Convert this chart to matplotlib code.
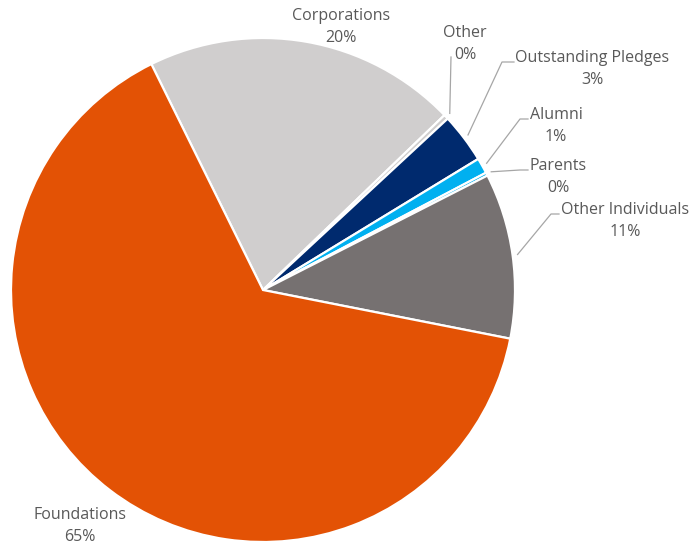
import numpy as np
import matplotlib
matplotlib.use('Agg')
import matplotlib.pyplot as plt

# Dati del grafico (ordine orario a partire da Corporations)
categories = ['Corporations', 'Other', 'Outstanding Pledges', 'Alumni',
              'Parents', 'Other Individuals', 'Foundations']
values = [20.1, 0.3, 3.2, 1.0, 0.2, 10.6, 64.6]
pct_labels = ['20%', '0%', '3%', '1%', '0%', '11%', '65%']
colors = ['#D0CECE', '#D0CECE', '#002A6E', '#00B0F0', '#00B0F0',
          '#767171', '#E35205']

W, H = 692, 545
CX, CY, R = 263, 290, 252


def px(x, y):
    """Pixel dell'immagine -> coordinate dati (raggio 1)."""
    return (x - CX) / R, (CY - y) / R


fig = plt.figure(figsize=(W / 100, H / 100), dpi=100)
ax = fig.add_axes([(CX - R) / W, (H - CY - R) / H, 2 * R / W, 2 * R / H])
ax.axis('off')

wedges, _ = ax.pie(values, colors=colors, startangle=116.3, counterclock=False,
                   radius=1, center=(0, 0), frame=False,
                   wedgeprops=dict(edgecolor='white', linewidth=1.6))
ax.set_xlim(-1, 1)
ax.set_ylim(-1, 1)

TEXT_COLOR = '#595959'
LINE_COLOR = '#A6A6A6'
FONT = 'Open Sans'

# posizione etichette (pixel) e gomito della linea guida
label_pos = {
    'Corporations': (341, 27, None),
    'Other': (465, 44, (451, 57)),
    'Outstanding Pledges': (592, 69, (502, 62)),
    'Alumni': (556, 126, (520, 119)),
    'Parents': (558, 177, (520, 170)),
    'Other Individuals': (625, 221, (551, 214)),
    'Foundations': (80, 526, None),
}
text_left = {
    'Outstanding Pledges': 514,
    'Alumni': 528,
    'Parents': 528,
    'Other Individuals': 559,
}

for w, cat, pct in zip(wedges, categories, pct_labels):
    tx, ty, elbow = label_pos[cat]
    x, y = px(tx, ty)
    ax.text(x, y, f'{cat}\n{pct}', ha='center', va='center', fontsize=11.5,
            color=TEXT_COLOR, family=FONT, linespacing=1.5)
    if elbow is not None:
        mid = np.deg2rad((w.theta1 + w.theta2) / 2)
        sx, sy = 1.02 * np.cos(mid), 1.02 * np.sin(mid)
        ex, ey = px(*elbow)
        xs, ys = [sx, ex], [sy, ey]
        if cat in text_left:
            hx, _ = px(text_left[cat], 0)
            xs.append(hx)
            ys.append(ey)
        ax.plot(xs, ys, color=LINE_COLOR, linewidth=0.9, clip_on=False)

fig.savefig('out.png', dpi=100, facecolor='white')
